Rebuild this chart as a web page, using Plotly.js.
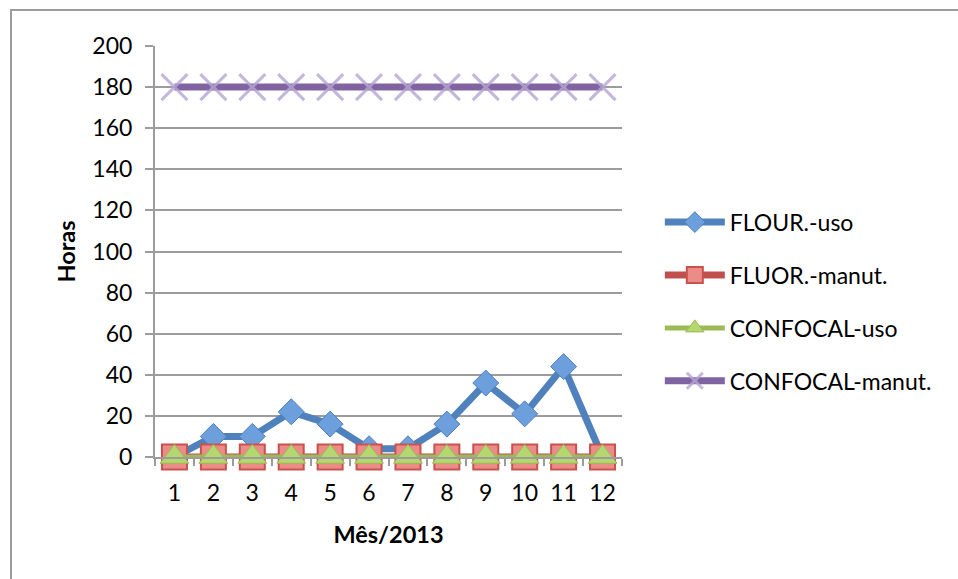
<!DOCTYPE html>
<html>
<head>
<meta charset="utf-8">
<script src="https://cdn.plot.ly/plotly-3.0.1.min.js"></script>
<style>
  body { margin: 0; background: white; }
  #frame {
    position: absolute; left: 10px; top: 9px; width: 960px; height: 580px;
    border-left: 2px solid #9c9c9c; border-top: 2px solid #9c9c9c;
  }
  #chart { position: absolute; left: 0; top: 0; width: 958px; height: 579px; }
</style>
</head>
<body>
<div id="frame"></div>
<div id="chart"></div>
<script>
// months of 2013
const months = ['1', '2', '3', '4', '5', '6', '7', '8', '9', '10', '11', '12'];

// hours per month
const fluorUso = [0, 10, 10, 22, 16, 4, 4, 16, 36, 21, 44, 0];
const fluorManut = [0, 0, 0, 0, 0, 0, 0, 0, 0, 0, 0, 0];
const confocalUso = [0, 0, 0, 0, 0, 0, 0, 0, 0, 0, 0, 0];
const confocalManut = [180, 180, 180, 180, 180, 180, 180, 180, 180, 180, 180, 180];

const seriesNames = ['FLOUR.-uso', 'FLUOR.-manut.', 'CONFOCAL-uso', 'CONFOCAL-manut.'];

const font = 'Lato, "Open Sans", sans-serif';

const traces = [
    {
        x: months, y: fluorUso, name: seriesNames[0], legendgroup: 'a',
        type: 'scatter', mode: 'lines+markers', cliponaxis: false,
        line: { color: '#4f81bd', width: 7 },
        marker: { symbol: 'diamond', size: 20, color: '#6d9fdc', line: { color: '#4f81bd', width: 1 } }
    },
    {
        x: months, y: fluorManut, name: seriesNames[1], legendgroup: 'b',
        type: 'scatter', mode: 'lines+markers', cliponaxis: false,
        line: { color: '#c0504d', width: 7 },
        marker: { symbol: 'square', size: 25, color: '#ec8c89', line: { color: '#c9524f', width: 2 } }
    },
    {
        x: months, y: confocalUso, name: seriesNames[2], legendgroup: 'c',
        type: 'scatter', mode: 'lines+markers', cliponaxis: false,
        line: { color: '#9bbb59', width: 5 },
        marker: { symbol: 'triangle-up', size: 25, color: '#b5d76f', line: { color: '#9bbb59', width: 1 } }
    },
    {
        x: months, y: confocalManut, name: seriesNames[3], legendgroup: 'd',
        type: 'scatter', mode: 'lines+markers', cliponaxis: false,
        line: { color: '#8064a2', width: 7 },
        marker: { symbol: 'x-thin', size: 26, color: '#b6a6d3', opacity: 0.8, line: { color: '#b6a6d3', width: 3 } }
    }
];

const layout = {
    width: 958,
    height: 579,
    margin: { l: 155, r: 336, t: 46, b: 122 },
    paper_bgcolor: 'rgba(0,0,0,0)',
    plot_bgcolor: 'rgba(0,0,0,0)',
    font: { family: font, size: 23, color: '#000' },
    showlegend: true,
    legend: {
        x: 1.081, y: 0.378, xanchor: 'left', yanchor: 'middle',
        traceorder: 'grouped', tracegroupgap: 20,
        font: { family: font, size: 23, color: '#000' },
        itemwidth: 60
    },
    xaxis: {
        type: 'category',
        range: [-0.5, 11.5],
        tickson: 'boundaries',
        tickangle: 0,
        ticks: 'outside', ticklen: 7, tickwidth: 2, tickcolor: '#9c9c9c',
        showline: true, linecolor: '#9c9c9c', linewidth: 2,
        showgrid: false, zeroline: false,
        ticklabelstandoff: 14,
        tickfont: { family: font, size: 23 },
        title: { text: '<b>Mês/2013</b>', font: { family: font, size: 23.5 }, standoff: 22 }
    },
    yaxis: {
        range: [0, 200], dtick: 20,
        ticks: 'outside', ticklen: 8, tickwidth: 2, tickcolor: '#9c9c9c',
        showline: true, linecolor: '#9c9c9c', linewidth: 2,
        showgrid: true, gridcolor: '#9c9c9c', gridwidth: 2,
        zeroline: false,
        ticklabelstandoff: 8,
        tickfont: { family: font, size: 23 },
        title: { text: '<b>Horas</b>', font: { family: font, size: 23.5 }, standoff: 10 }
    }
};

Plotly.newPlot('chart', traces, layout, { displayModeBar: false, staticPlot: true });
</script>
</body>
</html>
